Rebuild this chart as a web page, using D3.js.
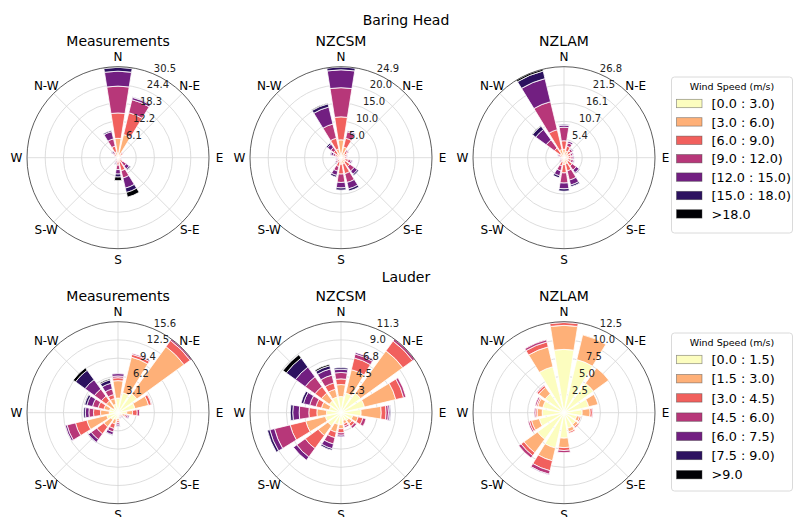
<!DOCTYPE html>
<html>
<head>
<meta charset="utf-8">
<script src="https://cdn.jsdelivr.net/npm/d3@7"></script>
<style>
  body { margin: 0; background: #fff; }
  svg { display: block; font-family: "DejaVu Sans", sans-serif; }
</style>
</head>
<body>
<svg id="chart" width="795" height="517"></svg>
<script>
// 16 compass sectors, clockwise from north
const sectors = ["N","NNE","NE","ENE","E","ESE","SE","SSE","S","SSW","SW","WSW","W","WNW","NW","NNW"];
const compassLabels = ["N","N-E","E","S-E","S","S-W","W","N-W"];

const sites = ["Baring Head", "Lauder"];
const sources = ["Measurements", "NZCSM", "NZLAM"];

const speedBinsBaring = ["[0.0 : 3.0)", "[3.0 : 6.0)", "[6.0 : 9.0)", "[9.0 : 12.0)", "[12.0 : 15.0)", "[15.0 : 18.0)", ">18.0"];
const speedBinsLauder = ["[0.0 : 1.5)", "[1.5 : 3.0)", "[3.0 : 4.5)", "[4.5 : 6.0)", "[6.0 : 7.5)", "[7.5 : 9.0)", ">9.0"];

// Frequency (%) per sector (rows) and speed bin (columns)
const baringMeasurements = [
  [1.0, 5.5, 8.5, 9.0, 5.0, 1.3, 0.2],
  [1.0, 7.0, 7.5, 4.5, 0.8, 0.2, 0.0],
  [0.5, 1.0, 0.5, 0.2, 0.1, 0.0, 0.0],
  [0.3, 0.5, 0.2, 0.1, 0.0, 0.0, 0.0],
  [0.3, 0.3, 0.2, 0.1, 0.0, 0.0, 0.0],
  [0.3, 0.4, 0.3, 0.2, 0.1, 0.0, 0.0],
  [0.3, 0.7, 1.0, 1.5, 1.2, 0.5, 0.1],
  [0.5, 1.0, 3.0, 2.5, 3.5, 1.5, 1.6],
  [0.3, 0.7, 1.5, 1.5, 1.5, 1.0, 1.2],
  [0.3, 0.5, 0.5, 0.5, 0.4, 0.2, 0.1],
  [0.3, 0.3, 0.2, 0.1, 0.1, 0.0, 0.0],
  [0.2, 0.2, 0.1, 0.1, 0.0, 0.0, 0.0],
  [0.2, 0.2, 0.1, 0.1, 0.0, 0.0, 0.0],
  [0.3, 0.3, 0.3, 0.2, 0.1, 0.0, 0.0],
  [0.4, 0.6, 0.6, 0.6, 0.4, 0.2, 0.0],
  [0.5, 1.5, 2.0, 2.5, 2.5, 0.4, 0.0]
];
const baringNZCSM = [
  [0.8, 4.1, 6.3, 8.0, 4.9, 0.8, 0.05],
  [0.5, 2.5, 2.5, 1.8, 0.3, 0.0, 0.0],
  [0.4, 1.1, 0.7, 0.4, 0.1, 0.0, 0.0],
  [0.3, 0.8, 0.5, 0.3, 0.1, 0.0, 0.0],
  [0.3, 0.7, 0.5, 0.3, 0.1, 0.0, 0.0],
  [0.3, 0.9, 0.9, 0.7, 0.4, 0.1, 0.0],
  [0.3, 1.2, 1.5, 1.5, 1.1, 0.4, 0.0],
  [0.4, 1.4, 2.7, 2.5, 1.8, 0.6, 0.0],
  [0.4, 1.4, 2.7, 2.3, 1.5, 0.6, 0.0],
  [0.3, 0.9, 1.3, 1.3, 1.2, 0.5, 0.0],
  [0.3, 0.6, 0.5, 0.4, 0.2, 0.1, 0.0],
  [0.2, 0.4, 0.4, 0.3, 0.2, 0.0, 0.0],
  [0.2, 0.4, 0.4, 0.3, 0.2, 0.1, 0.0],
  [0.3, 0.6, 0.7, 0.7, 0.6, 0.2, 0.0],
  [0.5, 1.0, 1.0, 1.0, 1.1, 0.4, 0.0],
  [0.5, 2.0, 3.0, 4.0, 4.8, 0.9, 0.2]
];
const baringNZLAM = [
  [0.5, 2.0, 2.5, 4.0, 0.6, 0.3, 0.0],
  [0.5, 1.5, 1.5, 1.0, 0.5, 0.0, 0.0],
  [0.4, 1.2, 0.9, 0.6, 0.3, 0.1, 0.0],
  [0.3, 1.0, 0.8, 0.6, 0.3, 0.0, 0.0],
  [0.3, 1.0, 0.8, 0.6, 0.3, 0.0, 0.0],
  [0.3, 1.0, 0.9, 0.7, 0.3, 0.1, 0.0],
  [0.3, 1.2, 1.5, 1.5, 1.0, 0.3, 0.0],
  [0.4, 1.4, 2.2, 2.8, 1.5, 0.5, 0.0],
  [0.5, 1.5, 2.5, 3.0, 1.7, 0.7, 0.0],
  [0.3, 0.9, 1.3, 1.5, 1.5, 0.6, 0.0],
  [0.3, 0.5, 0.4, 0.3, 0.2, 0.0, 0.0],
  [0.2, 0.4, 0.3, 0.2, 0.1, 0.0, 0.0],
  [0.2, 0.4, 0.3, 0.2, 0.1, 0.0, 0.0],
  [0.3, 0.5, 0.5, 0.4, 0.3, 0.1, 0.0],
  [0.4, 1.1, 2.0, 3.0, 3.8, 1.2, 0.2],
  [0.5, 2.0, 6.0, 8.5, 7.0, 2.3, 0.55]
];
const lauderMeasurements = [
  [2.5, 3.0, 0.5, 0.3, 0.4, 0.0, 0.0],
  [3.5, 6.3, 0.5, 0.2, 0.0, 0.0, 0.0],
  [4.0, 10.0, 1.3, 0.3, 0.0, 0.0, 0.0],
  [3.0, 2.4, 0.5, 0.1, 0.0, 0.0, 0.0],
  [1.5, 1.0, 0.8, 0.4, 0.0, 0.0, 0.0],
  [0.8, 0.4, 0.3, 0.3, 0.2, 0.0, 0.0],
  [0.5, 0.2, 0.1, 0.1, 0.1, 0.0, 0.0],
  [0.5, 0.2, 0.1, 0.1, 0.1, 0.0, 0.0],
  [1.0, 0.4, 0.3, 0.3, 0.3, 0.1, 0.0],
  [1.2, 0.8, 0.8, 0.6, 0.5, 0.1, 0.0],
  [1.5, 1.5, 1.5, 1.2, 0.6, 0.1, 0.0],
  [2.0, 3.5, 2.0, 1.5, 0.3, 0.0, 0.0],
  [1.5, 1.5, 1.2, 0.8, 0.6, 0.3, 0.0],
  [1.5, 1.0, 1.0, 1.0, 1.0, 0.4, 0.1],
  [1.0, 1.5, 1.0, 1.5, 2.0, 2.0, 0.5],
  [1.5, 1.0, 0.7, 1.0, 1.0, 0.6, 0.2]
];
const lauderNZCSM = [
  [2.0, 1.5, 0.7, 0.8, 0.4, 0.2, 0.0],
  [2.5, 3.0, 1.5, 0.5, 0.2, 0.0, 0.0],
  [3.0, 6.5, 1.5, 0.3, 0.0, 0.0, 0.0],
  [3.0, 4.0, 1.0, 0.3, 0.0, 0.0, 0.0],
  [2.5, 2.5, 0.6, 0.3, 0.2, 0.1, 0.0],
  [1.5, 0.7, 0.6, 0.4, 0.0, 0.0, 0.0],
  [1.2, 0.5, 0.4, 0.3, 0.0, 0.0, 0.0],
  [1.0, 0.4, 0.3, 0.2, 0.0, 0.0, 0.0],
  [1.5, 0.5, 0.5, 0.3, 0.2, 0.0, 0.0],
  [1.5, 1.0, 0.7, 0.8, 0.6, 0.2, 0.0],
  [2.0, 1.5, 2.0, 1.3, 0.5, 0.0, 0.0],
  [2.0, 2.5, 2.0, 2.0, 0.6, 0.3, 0.0],
  [1.8, 1.2, 1.0, 1.2, 0.8, 0.3, 0.0],
  [1.5, 1.0, 0.7, 0.8, 0.8, 0.3, 0.0],
  [1.8, 1.2, 1.0, 1.5, 1.5, 1.4, 0.5],
  [2.0, 1.0, 0.8, 1.0, 0.8, 0.4, 0.2]
];
const lauderNZLAM = [
  [8.7, 3.3, 0.4, 0.1, 0.0, 0.0, 0.0],
  [7.5, 3.5, 0.0, 0.0, 0.0, 0.0, 0.0],
  [5.0, 2.6, 0.0, 0.0, 0.0, 0.0, 0.0],
  [3.5, 1.3, 0.0, 0.0, 0.0, 0.0, 0.0],
  [2.5, 1.1, 0.3, 0.1, 0.0, 0.0, 0.0],
  [1.8, 0.4, 0.2, 0.0, 0.0, 0.0, 0.0],
  [2.0, 0.4, 0.2, 0.0, 0.0, 0.0, 0.0],
  [2.2, 0.5, 0.2, 0.0, 0.0, 0.0, 0.0],
  [3.5, 1.3, 0.4, 0.3, 0.0, 0.0, 0.0],
  [5.0, 1.8, 1.4, 0.5, 0.1, 0.0, 0.0],
  [4.5, 2.3, 0.5, 0.4, 0.0, 0.0, 0.0],
  [3.5, 1.1, 0.3, 0.2, 0.0, 0.0, 0.0],
  [3.0, 0.7, 0.2, 0.2, 0.0, 0.0, 0.0],
  [3.0, 0.7, 0.2, 0.2, 0.0, 0.0, 0.0],
  [3.2, 1.1, 0.3, 0.1, 0.0, 0.0, 0.0],
  [6.5, 2.8, 0.7, 0.3, 0.0, 0.0, 0.0]
];

// Outer radius of each rose (%), and the labels of its five rings
const radialMax = [30.5, 24.95, 26.85, 15.6, 11.3, 12.5];
const ringLabels = [
  ["6.1", "12.2", "18.3", "24.4", "30.5"],
  ["5.0", "10.0", "15.0", "20.0", "24.9"],
  ["5.4", "10.7", "16.1", "21.5", "26.8"],
  ["3.1", "6.2", "9.4", "12.5", "15.6"],
  ["2.3", "4.5", "6.8", "9.0", "11.3"],
  ["2.5", "5.0", "7.5", "10.0", "12.5"]
];

const roses = [baringMeasurements, baringNZCSM, baringNZLAM, lauderMeasurements, lauderNZCSM, lauderNZLAM];

// ---- layout ----
const colX = [118, 341, 564];
const rowY = [157.7, 412.7];
const R = 91;
const opening = 0.8;

const colors = d3.range(7).map(i => d3.interpolateMagma(1 - i / 6));

const svg = d3.select("#chart");

// site headings
sites.forEach((s, i) => {
  svg.append("text")
    .attr("x", 406).attr("y", i === 0 ? 25 : 282)
    .attr("text-anchor", "middle")
    .attr("font-size", 14)
    .attr("fill", "#000")
    .text(s);
});

const sectorAngle = d3.scaleBand().domain(sectors).range([0, 2 * Math.PI]);
const halfWidth = Math.PI / sectors.length * opening;

roses.forEach((table, idx) => {
  const row = Math.floor(idx / 3), col = idx % 3;
  const cx = colX[col], cy = rowY[row];
  const rScale = d3.scaleLinear().domain([0, radialMax[idx]]).range([0, R]);
  const g = svg.append("g").attr("transform", `translate(${cx},${cy})`);

  // subplot title
  g.append("text")
    .attr("x", 0).attr("y", -R - 20.5)
    .attr("text-anchor", "middle")
    .attr("font-size", 14)
    .text(sources[col]);

  // rings
  const ringVals = d3.range(1, 6).map(i => radialMax[idx] * i / 5);
  g.selectAll("circle.ring").data(ringVals.slice(0, 4)).join("circle")
    .attr("class", "ring")
    .attr("r", d => rScale(d))
    .attr("fill", "none").attr("stroke", "#d4d4d4").attr("stroke-width", 0.8);

  // spokes every 45 degrees
  d3.range(8).forEach(k => {
    const a = k * Math.PI / 4;
    g.append("line")
      .attr("x1", 0).attr("y1", 0)
      .attr("x2", R * Math.sin(a)).attr("y2", -R * Math.cos(a))
      .attr("stroke", "#d4d4d4").attr("stroke-width", 0.8);
  });

  // stacked sectors
  const arc = d3.arc();
  table.forEach((bins, s) => {
    const center = sectorAngle(sectors[s]);
    let acc = 0;
    bins.forEach((v, b) => {
      if (v <= 0) return;
      const r0 = rScale(acc);
      acc += v;
      const r1 = rScale(acc);
      g.append("path")
        .attr("d", arc({innerRadius: r0, outerRadius: r1, startAngle: center - halfWidth, endAngle: center + halfWidth}))
        .attr("fill", colors[b])
        .attr("stroke", "#fff").attr("stroke-width", 0.8);
    });
  });

  // frame
  g.append("circle").attr("r", R)
    .attr("fill", "none").attr("stroke", "#333").attr("stroke-width", 0.8);

  // compass labels
  compassLabels.forEach((lab, k) => {
    const a = k * Math.PI / 4;
    const d = R + 10.5;
    g.append("text")
      .attr("x", d * Math.sin(a)).attr("y", -d * Math.cos(a))
      .attr("dy", "0.36em")
      .attr("text-anchor", "middle")
      .attr("font-size", 12)
      .text(lab);
  });

  // ring labels along 22.5 degrees
  const la = Math.PI / 8;
  ringVals.forEach((v, i) => {
    const r = rScale(v);
    g.append("text")
      .attr("x", r * Math.sin(la) + 1).attr("y", -r * Math.cos(la) - 2)
      .attr("font-size", 10)
      .attr("fill", "#222")
      .text(ringLabels[idx][i]);
  });
});

// legends
function legend(bins, x, y, h, step) {
  const w = 121;
  const g = svg.append("g").attr("transform", `translate(${x},${y})`);
  g.append("rect").attr("width", w).attr("height", h).attr("rx", 3)
    .attr("fill", "#fff").attr("fill-opacity", 0.8)
    .attr("stroke", "#d0d0d0").attr("stroke-width", 0.8);
  g.append("text").attr("x", w / 2).attr("y", 12.5)
    .attr("text-anchor", "middle").attr("font-size", 9.5)
    .text("Wind Speed (m/s)");
  bins.forEach((lab, i) => {
    const yy = 26.5 + i * step;
    g.append("rect").attr("x", 5).attr("y", yy - 4.2).attr("width", 25.5).attr("height", 8.4)
      .attr("fill", colors[i]).attr("stroke", "#444").attr("stroke-opacity", 0.6).attr("stroke-width", 0.7);
    g.append("text").attr("x", 40).attr("y", yy).attr("dy", "0.36em")
      .attr("font-size", 12.8).text(lab);
  });
}
legend(speedBinsBaring, 671.5, 77, 156, 18.4);
legend(speedBinsLauder, 671.5, 333, 158, 19.2);
</script>
</body>
</html>
